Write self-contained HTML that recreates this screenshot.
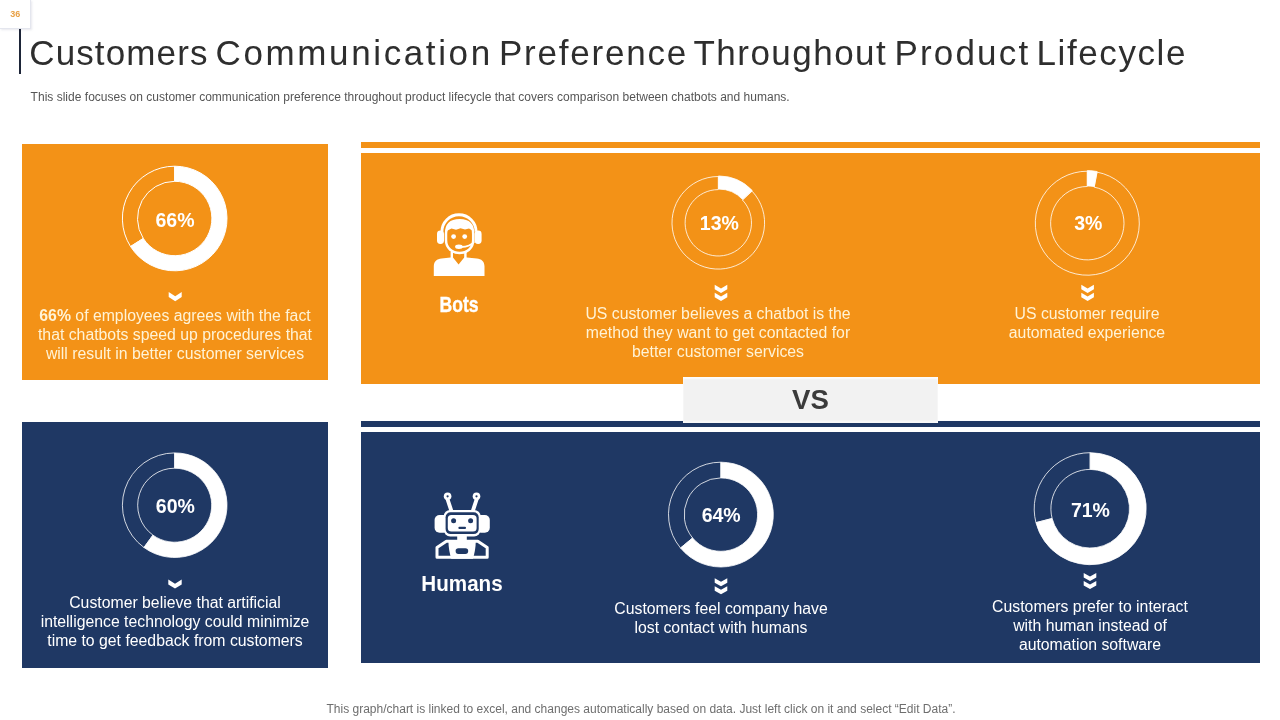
<!DOCTYPE html>
<html lang="en"><head><meta charset="utf-8"><title>Customers Communication Preference Throughout Product Lifecycle</title>
<style>
html,body{margin:0;padding:0;background:#fff;}
body{width:1280px;height:720px;position:relative;overflow:hidden;font-family:"Liberation Sans",sans-serif;}
.abs{position:absolute;}
.or{background:#F39217;}
.nv{background:#1F3864;}
#pg{left:0;top:0;width:31px;height:29px;background:#fff;border-right:1px solid #e4e6ee;border-bottom:1px solid #e4e6ee;box-sizing:border-box;box-shadow:1px 1px 2px rgba(120,130,160,.18);}
#pgn{left:0.3px;top:8.6px;width:30px;text-align:center;font-size:9px;font-weight:bold;color:#E8A045;line-height:10px;}
#vline{left:19px;top:29px;width:2px;height:45px;background:#1d2538;}
#title{left:0;top:31.2px;width:1280px;height:44px;white-space:nowrap;font-size:35px;line-height:44px;color:#2e2e2e;}
#title span{position:absolute;top:0;}
#sub{left:30.6px;top:90px;white-space:nowrap;font-size:12px;line-height:14px;color:#555;letter-spacing:0.015px;}
#foot{left:1px;width:1280px;top:702px;text-align:center;white-space:nowrap;font-size:12px;line-height:14px;color:#6e6e6e;}
.t{color:#fff;font-size:15.8px;line-height:19px;text-align:center;white-space:nowrap;}
.pc{color:#fff;font-weight:bold;font-size:19.5px;line-height:22px;text-align:center;width:80px;white-space:nowrap;}
.lb{color:#fff;font-weight:bold;font-size:22px;line-height:24px;text-align:center;white-space:nowrap;transform-origin:center;}
#vs{left:683px;top:377px;width:255px;height:46px;background:#F2F2F2;box-shadow:inset 0 2px 2px rgba(255,255,255,.8),inset 0 -2px 2px rgba(255,255,255,.6);}
#vst{left:683px;top:384.3px;width:255px;text-align:center;font-weight:bold;font-size:27.6px;line-height:32px;color:#3b3b3b;}
#wrap{position:absolute;left:0;top:0;width:1280px;height:720px;will-change:transform;}
.cr{color:#FFF3D6;}
</style></head><body><div id="wrap">
<div class="abs" id="pg"></div><div class="abs" id="pgn">36</div>
<div class="abs" id="vline"></div>
<div class="abs" id="title"><span style="left:29.25px;letter-spacing:1.125px">Customers</span> <span style="left:215.5px;letter-spacing:2.625px">Communication</span> <span style="left:499px;letter-spacing:1.778px">Preference</span> <span style="left:693.5px;letter-spacing:1.472px">Throughout</span> <span style="left:894.5px;letter-spacing:2.167px">Product</span> <span style="left:1036.5px;letter-spacing:1.594px">Lifecycle</span></div>
<div class="abs" id="sub">This slide focuses on customer communication preference throughout product lifecycle that covers comparison between chatbots and humans.</div>

<div class="abs or" style="left:22px;top:144px;width:306px;height:236px"></div>
<div class="abs nv" style="left:22px;top:422px;width:306px;height:246px"></div>
<div class="abs or" style="left:361px;top:142px;width:899px;height:6px"></div>
<div class="abs or" style="left:361px;top:153px;width:899px;height:231px"></div>
<div class="abs nv" style="left:361px;top:421px;width:899px;height:6px"></div>
<div class="abs nv" style="left:361px;top:432px;width:899px;height:231px"></div>
<div class="abs" id="vs"></div><div class="abs" id="vst">VS</div>

<svg class="abs" style="left:0;top:0" width="1280" height="720" viewBox="0 0 1280 720">
<g id="donuts">
<path d="M130.54 246.52A52.3 52.3 0 0 1 174.70 166.20L174.70 181.30A37.2 37.2 0 0 0 143.29 238.43Z" fill="none" stroke="#fff" stroke-width="1.0"/><path d="M174.70 166.20A52.3 52.3 0 1 1 130.54 246.52L143.29 238.43A37.2 37.2 0 1 0 174.70 181.30Z" fill="#fff" stroke="#fff" stroke-width="1.0"/>
<path d="M752.05 191.11A46.3 46.3 0 1 1 718.30 176.50L718.30 189.60A33.2 33.2 0 1 0 742.50 200.07Z" fill="none" stroke="#fff" stroke-width="0.8"/><path d="M718.54 175.95A46.3 46.3 0 0 1 752.29 190.55L742.74 199.52A33.2 33.2 0 0 0 718.54 189.05Z" fill="#fff" stroke="#fff" stroke-width="0.8"/>
<path d="M1097.04 172.12A52 52 0 1 1 1087.30 171.20L1087.30 186.50A36.7 36.7 0 1 0 1094.18 187.15Z" fill="none" stroke="#fff" stroke-width="0.8"/><path d="M1087.36 170.60A52 52 0 0 1 1097.10 171.52L1094.23 186.55A36.7 36.7 0 0 0 1087.36 185.90Z" fill="#fff" stroke="#fff" stroke-width="0.8"/>
<path d="M143.96 547.51A52.3 52.3 0 0 1 174.70 452.90L174.70 468.20A37 37 0 0 0 152.95 535.13Z" fill="none" stroke="#fff" stroke-width="0.8"/><path d="M174.70 452.90A52.3 52.3 0 1 1 143.96 547.51L152.95 535.13A37 37 0 1 0 174.70 468.20Z" fill="#fff" stroke="#fff" stroke-width="0.8"/>
<path d="M680.53 548.00A52.4 52.4 0 0 1 720.90 462.20L720.90 477.90A36.7 36.7 0 0 0 692.62 537.99Z" fill="none" stroke="#fff" stroke-width="0.8"/><path d="M720.90 462.20A52.4 52.4 0 1 1 680.53 548.00L692.62 537.99A36.7 36.7 0 1 0 720.90 477.90Z" fill="#fff" stroke="#fff" stroke-width="0.8"/>
<path d="M1035.96 522.63A56 56 0 0 1 1090.20 452.70L1090.20 469.40A39.3 39.3 0 0 0 1052.13 518.47Z" fill="none" stroke="#fff" stroke-width="0.8"/><path d="M1090.20 452.70A56 56 0 1 1 1035.96 522.63L1052.13 518.47A39.3 39.3 0 1 0 1090.20 469.40Z" fill="#fff" stroke="#fff" stroke-width="0.8"/>
</g>
<g id="chev" fill="#fff">
<polygon points="168.70,292.00 175.20,296.30 181.70,292.00 181.70,297.00 175.20,301.30 168.70,297.00"/>
<polygon points="168.30,579.60 175.00,583.70 181.70,579.60 181.70,584.50 175.00,588.60 168.30,584.50"/>
<polygon points="714.70,284.80 721.00,288.40 727.30,284.80 727.30,289.30 721.00,292.90 714.70,289.30"/><polygon points="714.70,292.80 721.00,296.40 727.30,292.80 727.30,297.30 721.00,300.90 714.70,297.30"/>
<polygon points="1081.30,284.80 1087.60,288.40 1093.90,284.80 1093.90,289.30 1087.60,292.90 1081.30,289.30"/><polygon points="1081.30,292.80 1087.60,296.40 1093.90,292.80 1093.90,297.30 1087.60,300.90 1081.30,297.30"/>
<polygon points="714.70,578.20 721.00,581.80 727.30,578.20 727.30,582.70 721.00,586.30 714.70,582.70"/><polygon points="714.70,586.20 721.00,589.80 727.30,586.20 727.30,590.70 721.00,594.30 714.70,590.70"/>
<polygon points="1083.70,573.00 1090.00,576.60 1096.30,573.00 1096.30,577.50 1090.00,581.10 1083.70,577.50"/><polygon points="1083.70,581.00 1090.00,584.60 1096.30,581.00 1096.30,585.50 1090.00,589.10 1083.70,585.50"/>
</g>
<g id="icons">
<g id="bot">
<path d="M441.9 231.8A17.1 17.1 0 0 1 476.1 231.8" fill="none" stroke="#fff" stroke-width="2.9"/>
<rect x="437" y="230.6" width="7" height="13.4" rx="3.4" fill="#fff"/>
<rect x="474.6" y="230.6" width="7" height="13.4" rx="3.4" fill="#fff"/>
<path d="M446 234C446 225 451 220.3 459.6 220.3C468.2 220.3 473.2 225 473.2 234L473.2 240C473.2 248.5 466.5 253 459.6 253C452.7 253 446 248.5 446 240Z" fill="#F39217" stroke="#fff" stroke-width="2.5"/>
<path d="M446 234C446 225 451 220.3 459.6 220.3C468.2 220.3 473.2 225 473.2 234L472.4 230.4L469 228.6L465 229.6L460.5 228.2L456 229.8L451.5 228.4L447.6 230.6Z" fill="#fff"/>
<circle cx="453.6" cy="236.6" r="2.4" fill="#fff"/><circle cx="464.7" cy="236.6" r="2.4" fill="#fff"/>
<path d="M461 247C466.5 247 471.5 245.6 474.2 241.6" fill="none" stroke="#fff" stroke-width="1.8"/>
<ellipse cx="458.9" cy="246.8" rx="3.8" ry="2.2" fill="#fff"/>
<path d="M451.8 252V259M465.4 252V259" stroke="#fff" stroke-width="2.4" fill="none"/>
<path d="M433.8 276V266.5C433.8 261.5 437 259 441.5 258.6L452.8 257.2L458.6 264.6L464.4 257.2L476.8 258.6C481.3 259 484.5 261.5 484.5 266.5V276Z" fill="#fff"/>
</g>
<g id="robot">
<path d="M447.3 498.5L451.4 511M476.9 498.5L472.8 511" stroke="#fff" stroke-width="3.9" fill="none"/>
<circle cx="447.6" cy="496.3" r="3.8" fill="#fff"/><circle cx="476.5" cy="496.3" r="3.8" fill="#fff"/>
<circle cx="447.6" cy="496.3" r="1.1" fill="#1F3864"/><circle cx="476.5" cy="496.3" r="1.1" fill="#1F3864"/>
<rect x="434.6" y="515" width="14" height="17.8" rx="5" fill="#fff"/>
<rect x="475.8" y="515" width="14" height="17.8" rx="5" fill="#fff"/>
<rect x="443.7" y="509.9" width="36.9" height="26.5" rx="6.5" fill="#fff"/>
<rect x="445.6" y="512.3" width="33.1" height="21.8" rx="5" fill="#1F3864"/>
<rect x="447.8" y="515.1" width="28.8" height="16.5" rx="3.6" fill="#fff"/>
<circle cx="453.6" cy="520.7" r="2.5" fill="#1F3864"/><circle cx="470.6" cy="520.7" r="2.5" fill="#1F3864"/>
<rect x="458.4" y="526.8" width="7.6" height="2.2" rx="1" fill="#1F3864"/>
<rect x="457.2" y="536" width="9.6" height="4" fill="#fff"/>
<path d="M437 557.3V547.6L446.4 541.3H477.8L487.2 547.6V557.3Z" fill="#1F3864" stroke="#fff" stroke-width="3" stroke-linejoin="round"/>
<path d="M448.4 540H475.8C475.8 548 474.4 554 472.9 558.8H451.3C449.8 554 448.4 548 448.4 540Z" fill="#fff"/>
<rect x="455.6" y="548.2" width="12.6" height="5.7" rx="2.85" fill="#1F3864"/>
</g>
</g>
</svg>

<div class="abs pc" style="left:135px;top:208.6px">66%</div>
<div class="abs pc" style="left:679.3px;top:211.6px">13%</div>
<div class="abs pc" style="left:1048.3px;top:212.4px">3%</div>
<div class="abs pc" style="left:135.3px;top:494.6px">60%</div>
<div class="abs pc" style="left:681.2px;top:503.8px">64%</div>
<div class="abs pc" style="left:1050.4px;top:498.8px">71%</div>

<div class="abs lb" id="bots" style="left:409.4px;top:292.7px;width:100px;transform:scaleX(.80);-webkit-text-stroke:0.35px #fff">Bots</div>
<div class="abs lb" id="humans" style="left:412px;top:571.7px;width:100px;transform:scaleX(.937)">Humans</div>

<div class="abs t cr" id="t1" style="left:22px;top:306px;width:306px"><b>66%</b> of employees agrees with the fact<br>that chatbots speed up procedures that<br>will result in better customer services</div>
<div class="abs t cr" id="t2" style="left:568px;top:304px;width:300px">US customer believes a chatbot is the<br>method they want to get contacted for<br>better customer services</div>
<div class="abs t cr" id="t3" style="left:937px;top:304px;width:300px">US customer require<br>automated experience</div>
<div class="abs t" id="t4" style="left:22px;top:593px;width:306px">Customer believe that artificial<br>intelligence technology could minimize<br>time to get feedback from customers</div>
<div class="abs t" id="t5" style="left:571px;top:599px;width:300px">Customers feel company have<br>lost contact with humans</div>
<div class="abs t" id="t6" style="left:940px;top:597px;width:300px">Customers prefer to interact<br>with human instead of<br>automation software</div>

<div class="abs" id="foot">This graph/chart is linked to excel, and changes automatically based on data. Just left click on it and select &ldquo;Edit Data&rdquo;.</div>
</div></body></html>
